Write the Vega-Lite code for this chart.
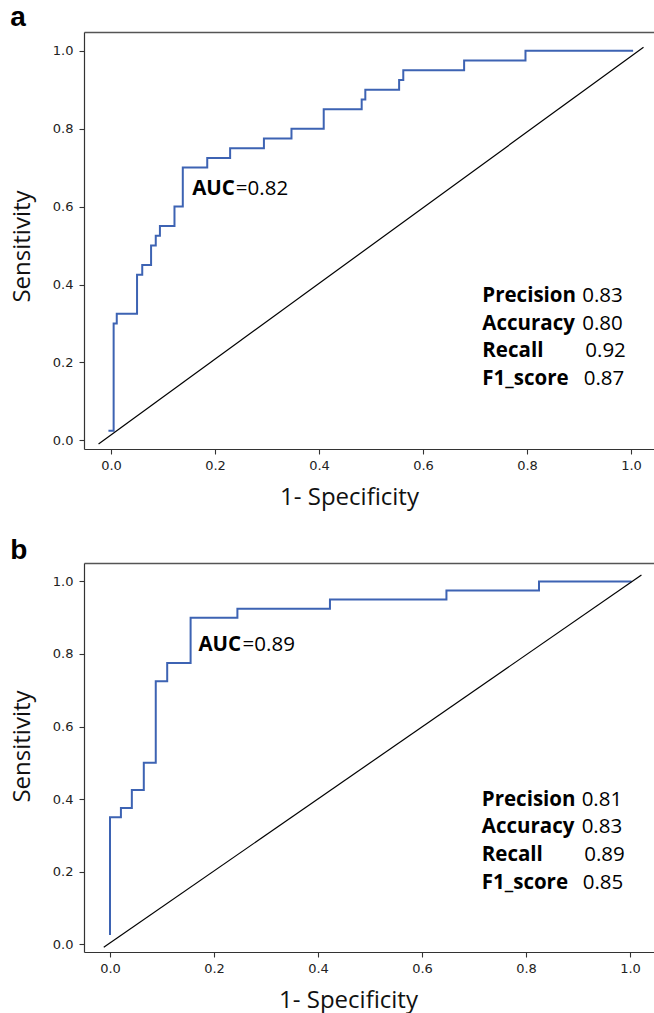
{
  "$schema": "https://vega.github.io/schema/vega-lite/v6.json",
  "padding": {"left": 10, "right": 0, "top": 4, "bottom": 2},
  "autosize": {"type": "pad"},
  "spacing": 28,
  "config": {
    "view": {"stroke": null},
    "font": "Open Sans",
    "axis": {"domainColor": "#333", "domainWidth": 1.2, "tickColor": "#333", "tickSize": 5, "tickWidth": 1.1, "labelFont": "DejaVu Sans", "labelFontSize": 13, "labelColor": "#222", "titleFont": "Open Sans", "titleFontSize": 24, "titleFontWeight": "normal", "titleColor": "#111", "grid": false},
    "title": {"font": "Liberation Sans", "fontSize": 28, "fontWeight": "bold", "anchor": "start", "frame": "bounds", "color": "#000"}
  },
  "datasets": {
    "curveA": [
      {"i": 0, "fpr": -0.005, "tpr": 0.025}, {"i": 1, "fpr": 0.005, "tpr": 0.3}, {"i": 2, "fpr": 0.011, "tpr": 0.325},
      {"i": 3, "fpr": 0.05, "tpr": 0.425}, {"i": 4, "fpr": 0.06, "tpr": 0.45}, {"i": 5, "fpr": 0.077, "tpr": 0.5},
      {"i": 6, "fpr": 0.086, "tpr": 0.525}, {"i": 7, "fpr": 0.094, "tpr": 0.55}, {"i": 8, "fpr": 0.122, "tpr": 0.6},
      {"i": 9, "fpr": 0.138, "tpr": 0.7}, {"i": 10, "fpr": 0.185, "tpr": 0.725}, {"i": 11, "fpr": 0.229, "tpr": 0.75},
      {"i": 12, "fpr": 0.294, "tpr": 0.775}, {"i": 13, "fpr": 0.347, "tpr": 0.8}, {"i": 14, "fpr": 0.409, "tpr": 0.85},
      {"i": 15, "fpr": 0.482, "tpr": 0.875}, {"i": 16, "fpr": 0.489, "tpr": 0.9}, {"i": 17, "fpr": 0.554, "tpr": 0.925},
      {"i": 18, "fpr": 0.562, "tpr": 0.95}, {"i": 19, "fpr": 0.679, "tpr": 0.975}, {"i": 20, "fpr": 0.797, "tpr": 1.0},
      {"i": 21, "fpr": 1.004, "tpr": 1.0}
    ],
    "diagA": [{"fpr": -0.024, "tpr": -0.009}, {"fpr": 1.024, "tpr": 1.009}],
    "boldA": [
      {"label": "AUC", "x": 0.156, "y": 0.63},
      {"label": "Precision", "x": 0.714, "y": 0.3556},
      {"label": "Accuracy", "x": 0.714, "y": 0.2838},
      {"label": "Recall", "x": 0.714, "y": 0.2133},
      {"label": "F1_score", "x": 0.714, "y": 0.1428}
    ],
    "regA": [
      {"label": "=0.82", "x": 0.24, "y": 0.63},
      {"label": "0.83", "x": 0.906, "y": 0.3556},
      {"label": "0.80", "x": 0.906, "y": 0.2838},
      {"label": "0.92", "x": 0.912, "y": 0.2133},
      {"label": "0.87", "x": 0.909, "y": 0.1428}
    ],
    "curveB": [
      {"i": 0, "fpr": 0.0, "tpr": 0.025}, {"i": 1, "fpr": 0.0, "tpr": 0.35}, {"i": 2, "fpr": 0.021, "tpr": 0.375},
      {"i": 3, "fpr": 0.042, "tpr": 0.425}, {"i": 4, "fpr": 0.065, "tpr": 0.5}, {"i": 5, "fpr": 0.088, "tpr": 0.725},
      {"i": 6, "fpr": 0.11, "tpr": 0.775}, {"i": 7, "fpr": 0.155, "tpr": 0.9}, {"i": 8, "fpr": 0.245, "tpr": 0.925},
      {"i": 9, "fpr": 0.423, "tpr": 0.95}, {"i": 10, "fpr": 0.647, "tpr": 0.975}, {"i": 11, "fpr": 0.825, "tpr": 1.0},
      {"i": 12, "fpr": 1.003, "tpr": 1.0}
    ],
    "diagB": [{"fpr": -0.012, "tpr": -0.009}, {"fpr": 1.022, "tpr": 1.018}],
    "boldB": [
      {"label": "AUC", "x": 0.17, "y": 0.807},
      {"label": "Precision", "x": 0.715, "y": 0.381},
      {"label": "Accuracy", "x": 0.715, "y": 0.305},
      {"label": "Recall", "x": 0.715, "y": 0.229},
      {"label": "F1_score", "x": 0.715, "y": 0.152}
    ],
    "regB": [
      {"label": "=0.89", "x": 0.255, "y": 0.807},
      {"label": "0.81", "x": 0.907, "y": 0.381},
      {"label": "0.83", "x": 0.907, "y": 0.305},
      {"label": "0.89", "x": 0.912, "y": 0.229},
      {"label": "0.85", "x": 0.909, "y": 0.152}
    ]
  },
  "vconcat": [
    {
      "title": {"text": "a", "offset": 0},
      "width": 572,
      "height": 417,
      "resolve": {"axis": {"x": "independent"}},
      "layer": [
        {
          "data": {"name": "curveA"},
          "mark": {"type": "line", "interpolate": "step-after", "color": "#3d63b3", "strokeWidth": 2},
          "encoding": {
            "x": {"field": "fpr", "type": "quantitative", "scale": {"domain": [-0.052, 1.048], "nice": false, "zero": false},
                  "axis": {"orient": "bottom", "values": [0, 0.2, 0.4, 0.6, 0.8, 1], "format": ".1f", "title": "1- Specificity", "labelPadding": 5, "titlePadding": 13, "titleX": 265}},
            "y": {"field": "tpr", "type": "quantitative", "scale": {"domain": [-0.022, 1.048], "nice": false, "zero": false},
                  "axis": {"values": [0, 0.2, 0.4, 0.6, 0.8, 1], "format": ".1f", "title": "Sensitivity", "labelPadding": 6, "titlePadding": 18, "titleY": 214}},
            "order": {"field": "i", "type": "quantitative"}
          }
        },
        {
          "data": {"name": "diagA"},
          "mark": {"type": "line", "color": "#000", "strokeWidth": 1.2},
          "encoding": {
            "x": {"field": "fpr", "type": "quantitative", "axis": {"orient": "top", "labels": false, "ticks": false, "title": null, "domain": true, "domainColor": "#555", "domainWidth": 1.6}},
            "y": {"field": "tpr", "type": "quantitative"}
          }
        },
        {
          "data": {"name": "boldA"},
          "mark": {"type": "text", "align": "left", "baseline": "alphabetic", "fontWeight": "bold", "fontSize": 20.5, "font": "Open Sans", "color": "#000"},
          "encoding": {
            "x": {"field": "x", "type": "quantitative", "axis": null},
            "y": {"field": "y", "type": "quantitative"},
            "text": {"field": "label"}
          }
        },
        {
          "data": {"name": "regA"},
          "mark": {"type": "text", "align": "left", "baseline": "alphabetic", "fontWeight": "normal", "fontSize": 20.5, "font": "Open Sans", "color": "#000"},
          "encoding": {
            "x": {"field": "x", "type": "quantitative", "axis": null},
            "y": {"field": "y", "type": "quantitative"},
            "text": {"field": "label"}
          }
        }
      ]
    },
    {
      "title": {"text": "b", "offset": -2},
      "width": 572,
      "height": 389,
      "resolve": {"axis": {"x": "independent"}},
      "layer": [
        {
          "data": {"name": "curveB"},
          "mark": {"type": "line", "interpolate": "step-after", "color": "#3d63b3", "strokeWidth": 2},
          "encoding": {
            "x": {"field": "fpr", "type": "quantitative", "scale": {"domain": [-0.05, 1.05], "nice": false, "zero": false},
                  "axis": {"orient": "bottom", "values": [0, 0.2, 0.4, 0.6, 0.8, 1], "format": ".1f", "title": "1- Specificity", "labelPadding": 5, "titlePadding": 13, "titleX": 264}},
            "y": {"field": "tpr", "type": "quantitative", "scale": {"domain": [-0.022, 1.051], "nice": false, "zero": false},
                  "axis": {"values": [0, 0.2, 0.4, 0.6, 0.8, 1], "format": ".1f", "title": "Sensitivity", "labelPadding": 6, "titlePadding": 18, "titleY": 183}},
            "order": {"field": "i", "type": "quantitative"}
          }
        },
        {
          "data": {"name": "diagB"},
          "mark": {"type": "line", "color": "#000", "strokeWidth": 1.2},
          "encoding": {
            "x": {"field": "fpr", "type": "quantitative", "axis": {"orient": "top", "labels": false, "ticks": false, "title": null, "domain": true, "domainColor": "#555", "domainWidth": 1.6}},
            "y": {"field": "tpr", "type": "quantitative"}
          }
        },
        {
          "data": {"name": "boldB"},
          "mark": {"type": "text", "align": "left", "baseline": "alphabetic", "fontWeight": "bold", "fontSize": 20.5, "font": "Open Sans", "color": "#000"},
          "encoding": {
            "x": {"field": "x", "type": "quantitative", "axis": null},
            "y": {"field": "y", "type": "quantitative"},
            "text": {"field": "label"}
          }
        },
        {
          "data": {"name": "regB"},
          "mark": {"type": "text", "align": "left", "baseline": "alphabetic", "fontWeight": "normal", "fontSize": 20.5, "font": "Open Sans", "color": "#000"},
          "encoding": {
            "x": {"field": "x", "type": "quantitative", "axis": null},
            "y": {"field": "y", "type": "quantitative"},
            "text": {"field": "label"}
          }
        }
      ]
    }
  ]
}
